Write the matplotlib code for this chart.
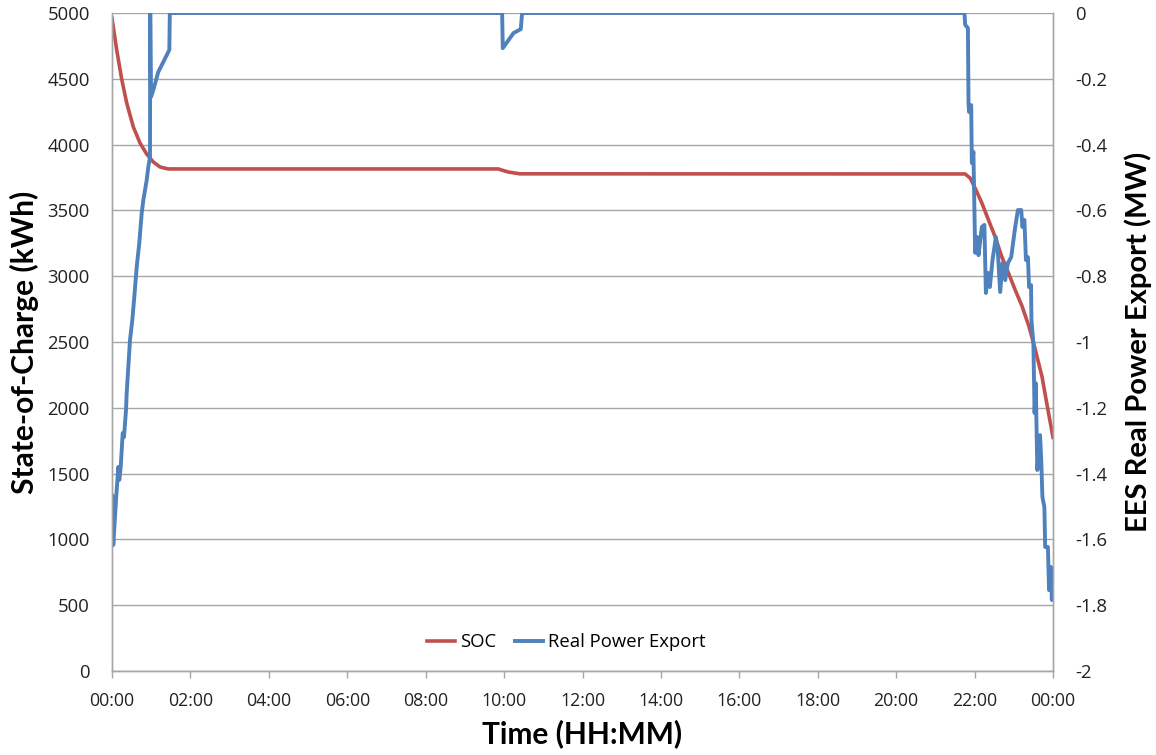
import matplotlib
matplotlib.use("Agg")
import matplotlib.pyplot as plt
from matplotlib.lines import Line2D

# ---- data ----
soc_hours = [0.0, 0.12, 0.247, 0.375, 0.544, 0.714, 0.885, 1.054, 1.224, 1.436,
             9.85, 10.1, 10.4, 21.76, 21.89, 22.015, 22.186, 22.355, 22.526, 22.696,
             22.865, 23.036, 23.207, 23.39, 23.55, 23.72, 23.84, 24.0]
soc_kwh = [4960, 4719, 4498, 4316, 4134, 4012, 3928, 3868, 3830, 3815,
           3815, 3792, 3778, 3777, 3744, 3668, 3556, 3427, 3298, 3146,
           3024, 2895, 2775, 2615, 2439, 2236, 2036, 1775]

pwr_hours = [0.0, 0.005, 0.013, 0.033, 0.102, 0.161, 0.186, 0.222, 0.273, 0.306,
             0.357, 0.375, 0.459, 0.518, 0.569, 0.630, 0.696, 0.758, 0.80, 0.885,
             0.926, 0.969, 0.975, 0.995, 1.054, 1.181, 1.309, 1.462, 1.475,
             9.95, 9.967, 10.24, 10.426, 10.46,
             21.742, 21.76, 21.83, 21.845, 21.86, 21.913, 21.93, 21.97, 22.015, 22.066,
             22.10, 22.186, 22.25, 22.288, 22.34, 22.39, 22.457, 22.543, 22.594, 22.653,
             22.712, 22.781, 22.849, 22.934, 23.036, 23.105, 23.19, 23.22, 23.27, 23.31,
             23.36, 23.39, 23.44, 23.45, 23.50, 23.53, 23.56, 23.60, 23.67, 23.70,
             23.73, 23.78, 23.80, 23.87, 23.90, 23.95, 23.97, 24.0]
pwr_mw = [-1.556, -1.465, -1.55, -1.617, -1.480, -1.380, -1.419, -1.380, -1.277, -1.289,
          -1.207, -1.155, -0.994, -0.933, -0.863, -0.772, -0.699, -0.608, -0.568, -0.508,
          -0.468, -0.438, 0.0, -0.255, -0.234, -0.179, -0.149, -0.112, 0.0,
          0.0, -0.107, -0.061, -0.049, 0.0,
          0.0, -0.036, -0.046, -0.274, -0.301, -0.280, -0.456, -0.422, -0.729, -0.681,
          -0.736, -0.650, -0.644, -0.851, -0.790, -0.833, -0.751, -0.681, -0.729, -0.848,
          -0.760, -0.812, -0.760, -0.742, -0.650, -0.599, -0.599, -0.650, -0.629, -0.751,
          -0.742, -0.833, -0.827, -0.933, -1.003, -1.216, -1.125, -1.389, -1.283, -1.359,
          -1.471, -1.502, -1.623, -1.623, -1.754, -1.684, -1.784, -1.700]

x_ticks = list(range(0, 25, 2))
x_tick_labels = ["00:00", "02:00", "04:00", "06:00", "08:00", "10:00", "12:00",
                 "14:00", "16:00", "18:00", "20:00", "22:00", "00:00"]
left_ticks = list(range(0, 5001, 500))
right_ticks = [0, -0.2, -0.4, -0.6, -0.8, -1.0, -1.2, -1.4, -1.6, -1.8, -2.0]
right_tick_labels = ["0", "-0.2", "-0.4", "-0.6", "-0.8", "-1", "-1.2", "-1.4",
                     "-1.6", "-1.8", "-2"]

RED = "#C0504D"
BLUE = "#4F81BD"
GRID = "#A6A6A6"
TICKFONT = "Open Sans"
LABELFONT = "Lato"

fig = plt.figure(figsize=(11.56, 7.55), dpi=100)
ax = fig.add_axes([112 / 1156, 84 / 755, 941 / 1156, 658 / 755])
ax2 = ax.twinx()

ax.plot(soc_hours, soc_kwh, color=RED, lw=2.6, solid_joinstyle="round")
ax2.plot(pwr_hours, pwr_mw, color=BLUE, lw=2.8, solid_joinstyle="round")

ax.set_xlim(0, 24)
ax.set_ylim(0, 5000)
ax2.set_ylim(-2, 0)

ax.set_xticks(x_ticks)
ax.set_xticklabels(x_tick_labels, fontsize=12.8, family=TICKFONT, color="#222222")
ax.set_yticks(left_ticks)
ax.set_yticklabels([str(v) for v in left_ticks], fontsize=13.3, family=TICKFONT, color="#222222")
ax2.set_yticks(right_ticks)
ax2.set_yticklabels(right_tick_labels, fontsize=13.3, family=TICKFONT, color="#222222")

ax.yaxis.grid(True, color=GRID, lw=1.0)
ax.set_axisbelow(True)
ax.tick_params(axis="y", length=0, pad=16)
ax.tick_params(axis="x", length=5, width=1, color=GRID, direction="out", pad=10)
ax2.tick_params(axis="y", length=0, pad=16)

for a in (ax, ax2):
    a.spines["top"].set_visible(False)
    for s in ("left", "right", "bottom"):
        a.spines[s].set_color(GRID)
        a.spines[s].set_linewidth(1.0)

ax.set_xlabel("Time (HH:MM)", fontsize=21.5, fontweight="bold", family=LABELFONT, labelpad=7)
ax.set_ylabel("State-of-Charge (kWh)", fontsize=21.5, fontweight="bold", family=LABELFONT, labelpad=6)
ax2.set_ylabel("EES Real Power Export (MW)", fontsize=21, fontweight="bold", family=LABELFONT,
               labelpad=12)

handles = [Line2D([], [], color=RED, lw=2.6), Line2D([], [], color=BLUE, lw=2.8)]
ax2.legend(handles, ["SOC", "Real Power Export"], loc="lower center",
           bbox_to_anchor=(0.483, 0.005), ncol=2, frameon=False,
           prop={"family": TICKFONT, "size": 13.3}, handlelength=1.5,
           handletextpad=0.3, columnspacing=1.0)

fig.savefig("out.png", dpi=100)
